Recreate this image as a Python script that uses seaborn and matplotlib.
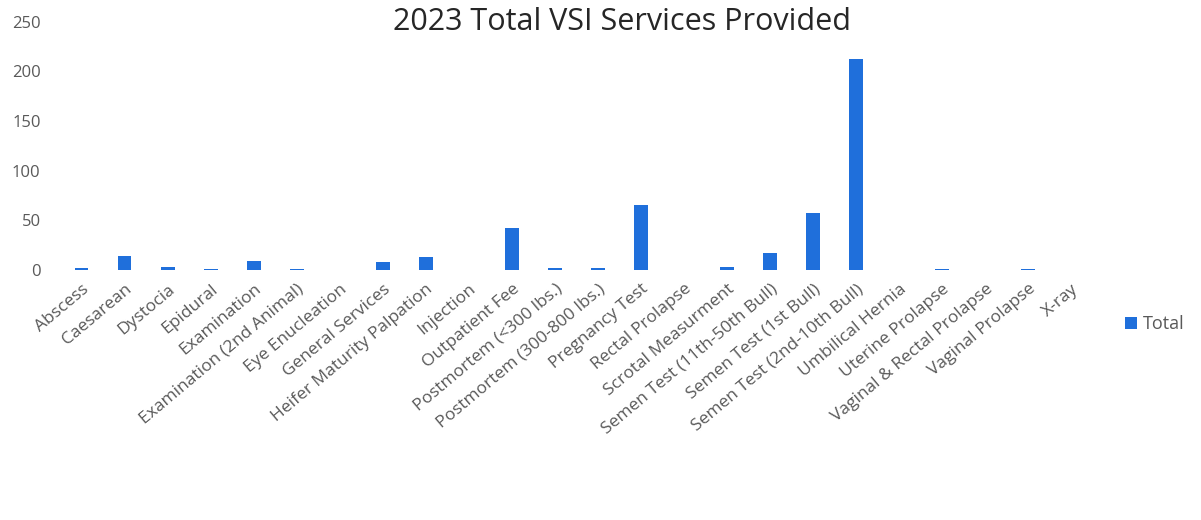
import matplotlib.pyplot as plt
import seaborn as sns
import pandas as pd

sns.set_theme(style="white")
plt.rcParams['font.family'] = ['Open Sans', 'DejaVu Sans']

services = [
    "Abscess", "Caesarean", "Dystocia", "Epidural", "Examination",
    "Examination (2nd Animal)", "Eye Enucleation", "General Services",
    "Heifer Maturity Palpation", "Injection", "Outpatient Fee",
    "Postmortem (<300 lbs.)", "Postmortem (300-800 lbs.)", "Pregnancy Test",
    "Rectal Prolapse", "Scrotal Measurment", "Semen Test (11th-50th Bull)",
    "Semen Test (1st Bull)", "Semen Test (2nd-10th Bull)", "Umbilical Hernia",
    "Uterine Prolapse", "Vaginal & Rectal Prolapse", "Vaginal Prolapse", "X-ray",
]
totals = [2, 14, 3, 1, 9, 1, 0, 8, 13, 0, 42, 2, 2, 65, 0, 3, 17, 57, 213, 0, 1, 0, 1, 0]
y_ticks = [0, 50, 100, 150, 200, 250]

df = pd.DataFrame({"service": services, "total": totals})

bar_color = "#1F6FDB"
grey = "#595959"

fig = plt.figure(figsize=(12.01, 5.20), dpi=100)
ax = fig.add_axes([0.05, 0.481, 0.86, 0.477])

sns.barplot(data=df, x="service", y="total", color=bar_color, width=0.32,
            linewidth=0, saturation=1, label="Total", ax=ax)

ax.set_ylim(0, 250)
ax.set_yticks(y_ticks)
ax.set_yticklabels([str(t) for t in y_ticks], color=grey, fontsize=12)
ax.set_xlim(-0.5, len(services) - 0.5)
ax.set_xticks(range(len(services)))
ax.set_xticklabels(services, rotation=40, ha="right", rotation_mode="anchor",
                   color=grey, fontsize=12.5)
ax.tick_params(axis="x", length=0, pad=8)
ax.tick_params(axis="y", length=0, pad=14)
ax.set_xlabel("")
ax.set_ylabel("")
for side in ["top", "right", "left", "bottom"]:
    ax.spines[side].set_visible(False)

# title sits high, partly clipped like the scan
fig.text(0.518, 0.942, "2023 Total VSI Services Provided", ha="center", va="baseline",
         fontsize=22, color="#262626")

ax.legend(loc="center left", bbox_to_anchor=(1.015, -0.22), frameon=False,
          fontsize=13, handlelength=0.7, handleheight=0.7, handletextpad=0.3,
          labelcolor=grey)

fig.savefig("out.png", dpi=100)
